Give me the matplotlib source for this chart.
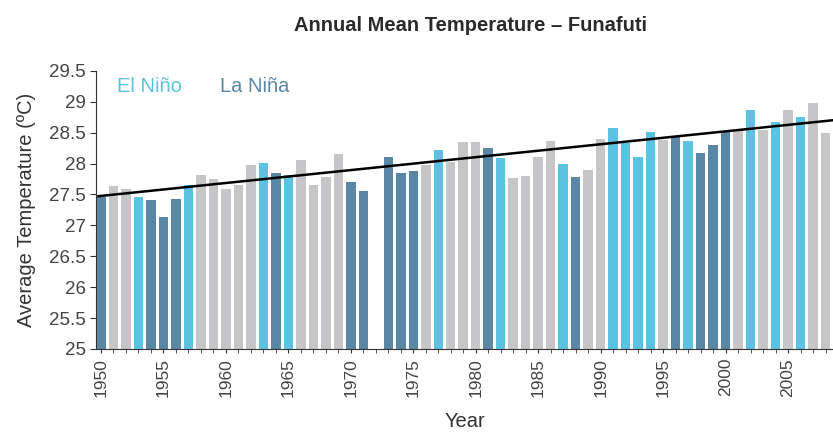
import matplotlib.pyplot as plt
import numpy as np

plt.rcParams['font.family'] = ['Liberation Sans', 'DejaVu Sans']

years = list(range(1950, 2009))

# annual mean temperature (degC); 1972 has no record
temps = [
    27.46, 27.63, 27.59, 27.46, 27.41, 27.14, 27.43, 27.66, 27.82, 27.75,
    27.59, 27.65, 27.97, 28.01, 27.84, 27.82, 28.05, 27.65, 27.79, 28.15,
    27.70, 27.56, np.nan, 28.11, 27.85, 27.88, 27.98, 28.22, 28.03, 28.35,
    28.35, 28.25, 28.09, 27.77, 27.80, 28.11, 28.37, 28.00, 27.79, 27.89,
    28.40, 28.58, 28.33, 28.11, 28.51, 28.38, 28.43, 28.37, 28.17, 28.30,
    28.51, 28.54, 28.87, 28.55, 28.67, 28.87, 28.76, 28.98, 28.50,
]

# E = El Nino year, L = La Nina year, N = neutral
phase = list(
    'LNNELLLENN'
    'NNNELENNNN'
    'LL-LLLNENN'
    'NLENNNNELN'
    'NEEEENLELL'
    'LNENENENNL'
)[:len(years)]

colors = {'E': '#5bc3e1', 'L': '#5b87a6', 'N': '#c6c6c8'}

x = np.array(years)
y = np.array(temps)
ok = ~np.isnan(y)

fig = plt.figure(figsize=(8.33, 4.34), dpi=100)
ax = fig.add_axes([0.1152, 0.196, 0.8848, 0.6406])

ax.bar(x[ok], y[ok] - 25, bottom=25, width=0.76,
       color=[colors[p] for p, k in zip(phase, ok) if k], zorder=2)

# linear trend over the whole record
slope, icpt = np.polyfit(x[ok], y[ok], 1)
tx = np.array([1949.8, 2008.6])
ax.plot(tx, slope * tx + icpt + 0.02, color='black', lw=1.8, zorder=3)

ax.set_xlim(1949.6, 2008.6)
ax.set_ylim(25, 29.5)
ax.set_yticks(np.arange(25, 29.51, 0.5))
ax.set_yticklabels(['25', '25.5', '26', '26.5', '27', '27.5',
                    '28', '28.5', '29', '29.5'])
ax.set_xticks(range(1950, 2006, 5))
ax.set_xticks(years, minor=True)
ax.tick_params(axis='x', which='both', rotation=90, length=3,
               labelsize=12.5, labelcolor='#444444', color='#333333')
ax.tick_params(axis='y', length=4, labelsize=13.5, labelcolor='#444444',
               color='#333333')
for s in ['top', 'right']:
    ax.spines[s].set_visible(False)
ax.spines['left'].set_color('#333333')
ax.spines['bottom'].set_color('#333333')

ax.set_ylabel('Average Temperature (ºC)', fontsize=14.5, color='#333333',
              labelpad=9)
ax.set_xlabel('Year', fontsize=14.5, color='#333333', labelpad=11)

fig.text(0.565, 0.942, 'Annual Mean Temperature – Funafuti', ha='center',
         va='center', fontsize=14.5, color='#2a2a2a', fontweight='bold')
ax.text(1951.3, 29.25, 'El Niño', color=colors['E'], fontsize=14.5,
        va='center')
ax.text(1959.5, 29.25, 'La Niña', color=colors['L'], fontsize=14.5,
        va='center')

fig.savefig('out.png', dpi=100)
